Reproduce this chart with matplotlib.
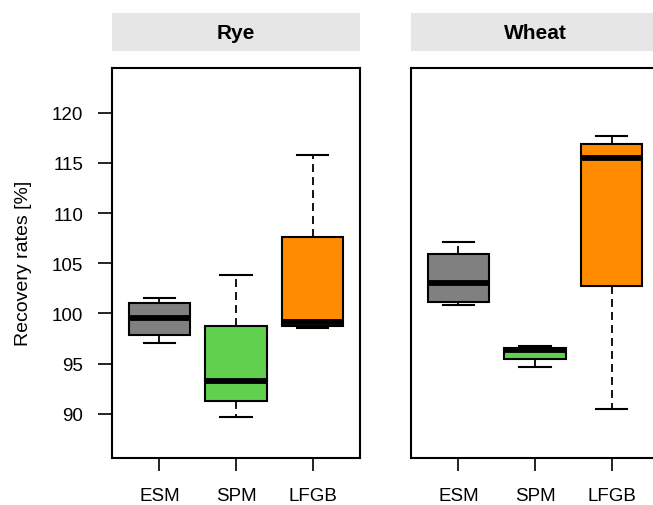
import matplotlib
matplotlib.use("Agg")
import matplotlib.pyplot as plt
from matplotlib.patches import Rectangle

plt.rcParams['font.family'] = ['Liberation Sans', 'DejaVu Sans']

methods = ["ESM", "SPM", "LFGB"]
panels = ["Rye", "Wheat"]
colors = ["#808080", "#61D04F", "#FF8C00"]
yticks = [90, 95, 100, 105, 110, 115, 120]

# stats per panel: whislo, q1, med, q3, whishi
rye_whislo = [97.1, 89.7, 98.55]
rye_q1 = [97.85, 91.25, 98.7]
rye_med = [99.55, 93.25, 99.15]
rye_q3 = [101.05, 98.75, 107.65]
rye_whishi = [101.55, 103.8, 115.8]

wheat_whislo = [100.8, 94.65, 90.5]
wheat_q1 = [101.1, 95.5, 102.7]
wheat_med = [103.0, 96.35, 115.45]
wheat_q3 = [105.9, 96.6, 116.9]
wheat_whishi = [107.1, 96.8, 117.7]

data = {
    "Rye": (rye_whislo, rye_q1, rye_med, rye_q3, rye_whishi),
    "Wheat": (wheat_whislo, wheat_q1, wheat_med, wheat_q3, wheat_whishi),
}

W, H = 653, 506
fig = plt.figure(figsize=(W / 100, H / 100), dpi=100)

lefts = [112, 411]
pw = 248
top, bottom = 68.5, 459

for i, name in enumerate(panels):
    x0 = lefts[i]
    ax = fig.add_axes([x0 / W, (H - bottom) / H, pw / W, (bottom - top) / H])
    lo, q1, med, q3, hi = data[name]
    stats = []
    for j in range(3):
        stats.append(dict(whislo=lo[j], q1=q1[j], med=med[j], q3=q3[j], whishi=hi[j], fliers=[]))
    bp = ax.bxp(stats, positions=[1, 2, 3], widths=0.8, patch_artist=True,
                showfliers=False, capwidths=0.41,
                boxprops=dict(edgecolor="black", linewidth=1.5),
                medianprops=dict(color="black", linewidth=4.2, solid_capstyle="butt"),
                whiskerprops=dict(color="black", linewidth=1.3, linestyle=(0, (4.4, 2.8))),
                capprops=dict(color="black", linewidth=1.5))
    for patch, c in zip(bp["boxes"], colors):
        patch.set_facecolor(c)
    ax.set_xlim(0.383, 3.617)
    ax.set_ylim(85.6, 124.5)
    ax.set_xticks([1, 2, 3])
    ax.set_xticklabels(methods, fontsize=13.5)
    ax.tick_params(axis="x", length=9.5, width=1.2, pad=11.3)
    for s in ax.spines.values():
        s.set_linewidth(1.5)
    if i == 0:
        ax.set_yticks(yticks)
        ax.set_yticklabels([str(v) for v in yticks], fontsize=13.5)
        ax.tick_params(axis="y", length=10, width=1.2, pad=10.8)
        ax.set_ylabel("Recovery rates [%]", fontsize=14, labelpad=14)
    else:
        ax.set_yticks([])
    # strip header
    sax = fig.add_axes([x0 / W, (H - 51.7) / H, pw / W, (51.7 - 14) / H])
    sax.set_axis_off()
    sax.add_patch(Rectangle((0, 0), 1, 1, transform=sax.transAxes, facecolor="#E6E6E6", edgecolor="none"))
    sax.text(0.5, 0.47, name, transform=sax.transAxes, ha="center", va="center",
             fontsize=15, fontweight="bold")

fig.savefig("out.png", dpi=100)
